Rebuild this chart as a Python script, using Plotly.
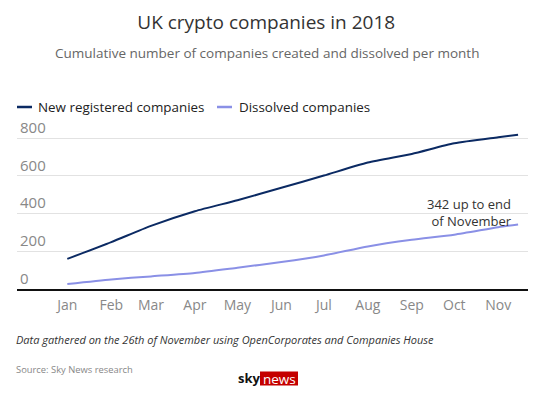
import plotly.graph_objects as go

# ---- data ----
dates = ["2018-01-01", "2018-02-01", "2018-03-01", "2018-04-01", "2018-05-01",
         "2018-06-01", "2018-07-01", "2018-08-01", "2018-09-01", "2018-10-01",
         "2018-11-01", "2018-11-15"]
new_registered = [160, 249, 335, 413, 471, 537, 602, 671, 717, 773, 805, 819]
dissolved = [27, 51, 67, 85, 113, 143, 178, 226, 261, 288, 328, 342]
tick_dates = ["2018-01-01", "2018-02-01", "2018-03-01", "2018-04-01", "2018-05-01",
              "2018-06-01", "2018-07-01", "2018-08-01", "2018-09-01", "2018-10-01",
              "2018-11-01"]
tick_labels = ["Jan", "Feb", "Mar", "Apr", "May", "Jun", "Jul", "Aug", "Sep", "Oct", "Nov"]
y_ticks = [0, 200, 400, 600, 800]
series_names = ["New registered companies", "Dissolved companies"]
series_colors = ["#0b2a63", "#8a90e6"]

FONT = "Open Sans"

# page body has an 8px default margin, so figure is 538x385 to fill the 546x393 window
W, H = 538, 385
PLOT_BOTTOM = 281.3
PLOT_TOP = 102.0
PH = PLOT_BOTTOM - PLOT_TOP


def py(ref_y):
    """paper y for a reference-screenshot pixel row"""
    return (PLOT_BOTTOM + 8 - ref_y) / PH


def px(ref_x):
    return (ref_x - 17) / 511


fig = go.Figure()
for name, vals, col in zip(series_names, [new_registered, dissolved], series_colors):
    fig.add_trace(go.Scatter(x=dates, y=vals, mode="lines", name=name, showlegend=False,
                             line=dict(color=col, width=2, shape="spline", smoothing=0.6)))

fig.update_layout(
    width=W, height=H,
    margin=dict(l=9, r=18, t=PLOT_TOP, b=H - PLOT_BOTTOM, autoexpand=False),
    paper_bgcolor="white", plot_bgcolor="white",
    font=dict(family=FONT, color="#333333"),
    hovermode=False,
    title=dict(text="UK crypto companies in 2018", x=0.48, xanchor="center",
               yref="container", y=1 - 14 / H, yanchor="middle",
               font=dict(size=19, color="#333333", family=FONT)),
    xaxis=dict(type="date", range=["2017-11-26 12:00", "2018-11-22"],
               tickvals=tick_dates, ticktext=tick_labels, ticks="",
               ticklabelstandoff=2,
               showgrid=False, zeroline=False,
               showline=True, linecolor="#111111", linewidth=1.5,
               tickfont=dict(size=14, color="#888888", family=FONT)),
    yaxis=dict(range=[0, 950], tickvals=y_ticks, ticks="",
               ticklabelposition="inside top",
               showgrid=True, gridcolor="#e2e2e2", gridwidth=1,
               zeroline=False, showline=False,
               tickfont=dict(size=15, color="#888888", family=FONT)),
)

# legend (drawn as short line keys + labels, matching the original's compact key)
legend_keys = [(17, 32, 38), (217, 232, 239)]
for (x0, x1, xt), name, col in zip(legend_keys, series_names, series_colors):
    fig.add_shape(type="line", xref="paper", yref="paper", x0=px(x0), x1=px(x1),
                  y0=py(107), y1=py(107), line=dict(color=col, width=2.5))
    fig.add_annotation(text=name, xref="paper", yref="paper", x=px(xt), y=py(106.5),
                       xanchor="left", yanchor="middle", xshift=-2, showarrow=False,
                       font=dict(size=13.4, color="#222222", family=FONT))

fig.add_annotation(text="Cumulative number of companies created and dissolved per month",
                   xref="paper", yref="paper", x=px(266.5), y=py(53), xanchor="center", yanchor="middle",
                   showarrow=False, font=dict(size=13.5, color="#666666", family=FONT))

fig.add_annotation(text="342 up to end<br>of November", x=dates[-1], y=dissolved[-1],
                   xanchor="right", yanchor="bottom", align="right", xshift=-4, yshift=-7.5,
                   showarrow=False, font=dict(size=13, color="#333333", family=FONT))

fig.add_annotation(text="<i>Data gathered on the 26th of November using OpenCorporates and Companies House</i>",
                   xref="paper", yref="paper", x=0, y=py(340), xanchor="left", yanchor="middle",
                   xshift=-3, showarrow=False, font=dict(size=11, color="#333333", family=FONT))
fig.add_annotation(text="Source: Sky News research",
                   xref="paper", yref="paper", x=0, y=py(370), xanchor="left", yanchor="middle",
                   xshift=-3, showarrow=False, font=dict(size=9.4, color="#888888", family=FONT))

# Sky News logo
fig.add_shape(type="rect", xref="paper", yref="paper", x0=px(260), x1=px(298), y0=py(386), y1=py(372),
              fillcolor="#c40000", line=dict(width=0), layer="above")
fig.add_annotation(text="<b>sky</b>", xref="paper", yref="paper", x=px(249), y=py(378.5),
                   xanchor="center", yanchor="middle", showarrow=False,
                   font=dict(size=13, color="#111111", family=FONT))
fig.add_annotation(text="news", xref="paper", yref="paper", x=px(279), y=py(379.5),
                   xanchor="center", yanchor="middle", showarrow=False,
                   font=dict(size=13.5, color="white", family=FONT))

fig.write_html("out.html")
